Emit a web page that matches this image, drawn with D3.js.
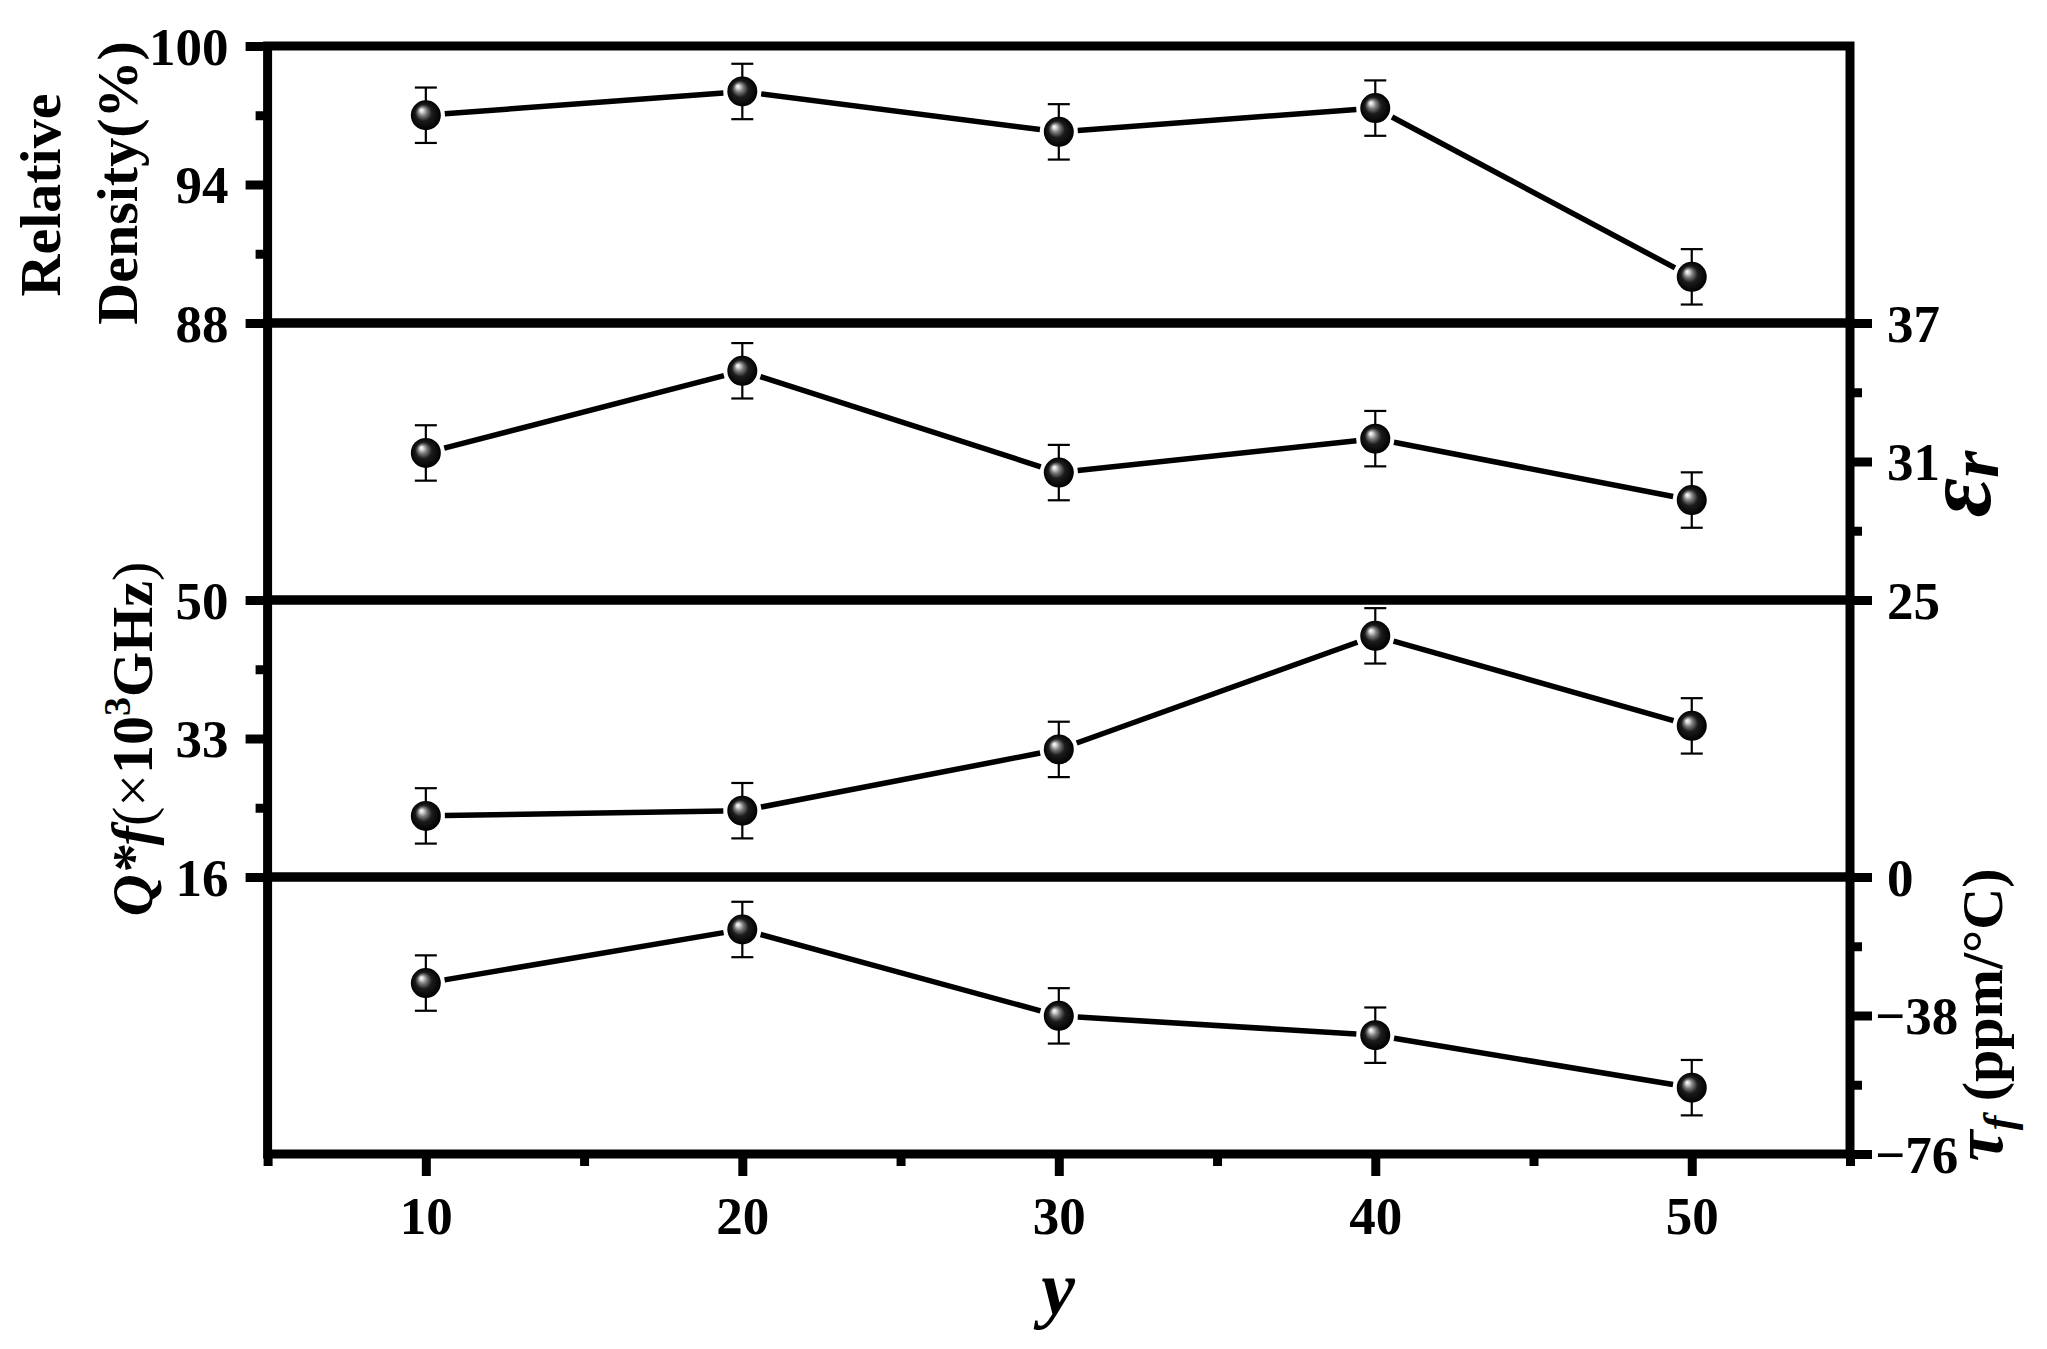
<!DOCTYPE html>
<html><head><meta charset="utf-8">
<script src="https://cdn.jsdelivr.net/npm/d3@7"></script>
<style>body{margin:0;background:#fff} svg{display:block}</style>
</head><body><svg id="c" width="2047" height="1349"></svg>
<script>
// ---- data ----
const xValues = [10, 20, 30, 40, 50];
const densityValues = [97.0, 98.03, 96.28, 97.31, 90.0];
const densityErr = [1.2, 1.2, 1.2, 1.2, 1.2];
const epsValues = [31.37, 34.93, 30.52, 31.99, 29.33];
const epsErr = [1.2, 1.2, 1.2, 1.2, 1.2];
const qfValues = [23.5, 24.14, 31.66, 45.6, 34.55];
const qfErr = [3.4, 3.4, 3.4, 3.4, 3.4];
const tauValues = [-29.1, -14.4, -38.1, -43.4, -57.8];
const tauErr = [7.6, 7.6, 7.6, 7.6, 7.6];

const xTicks = [10, 20, 30, 40, 50];
const xMinorTicks = [5, 15, 25, 35, 45, 55];
const densityTicks = [88, 94, 100];
const densityMinor = [91, 97];
const epsTicks = [25, 31, 37];
const epsMinor = [28, 34];
const qfTicks = [16, 33, 50];
const qfMinor = [24.5, 41.5];
const tauTicks = [-76, -38, 0];
const tauMinor = [-57, -19];

// ---- layout ----
const PL = 267.6, PR = 1850, PT = 46, panelH = 277;
const FONT = "'Liberation Serif','Times New Roman',serif";
const AX = 9, MAJ = 22, MIN = 12;

const svg = d3.select('#c');
const defs = svg.append('defs');
const grad = defs.append('radialGradient').attr('id', 'ball')
  .attr('cx', '50%').attr('cy', '50%').attr('r', '50%').attr('fx', '34%').attr('fy', '32%');
[[0, '#ffffff'], [0.12, '#d8d8d8'], [0.3, '#7a7a7a'], [0.55, '#1c1c1c'], [1, '#000000']]
  .forEach(([o, c]) => grad.append('stop').attr('offset', o).attr('stop-color', c));

const x = d3.scaleLinear().domain([5, 55]).range([PL, PR]);

const panels = [
  {values: densityValues, err: densityErr, domain: [88, 100], ticks: densityTicks, minor: densityMinor, side: 'left'},
  {values: epsValues, err: epsErr, domain: [25, 37], ticks: epsTicks, minor: epsMinor, side: 'right'},
  {values: qfValues, err: qfErr, domain: [16, 50], ticks: qfTicks, minor: qfMinor, side: 'left'},
  {values: tauValues, err: tauErr, domain: [-76, 0], ticks: tauTicks, minor: tauMinor, side: 'right'}
];

const fmt = d => d < 0 ? '\u2212' + Math.abs(d) : String(d);

function styleAxis(sel) {
  sel.select('.domain').remove();
  sel.selectAll('.tick line').attr('stroke', '#000').attr('stroke-width', AX);
  sel.selectAll('.tick text').attr('fill', '#000').style('font-family', FONT)
    .style('font-size', '53px').style('font-weight', 'bold');
}

const marks = svg.append('g');
const frames = svg.append('g');

panels.forEach((p, i) => {
  const y0 = PT + i * panelH, y1 = y0 + panelH;
  const y = d3.scaleLinear().domain(p.domain).range([y1, y0]);

  if (p.side === 'left') {
    const a = frames.append('g').attr('transform', `translate(${PL},0)`)
      .call(d3.axisLeft(y).tickValues(p.ticks).tickSize(MAJ).tickPadding(17).tickFormat(fmt));
    styleAxis(a);
    a.selectAll('.tick text').attr('dy', '0.34em');
    const m = frames.append('g').attr('transform', `translate(${PL},0)`)
      .call(d3.axisLeft(y).tickValues(p.minor).tickSize(MIN).tickFormat(''));
    styleAxis(m);
  } else {
    const a = frames.append('g').attr('transform', `translate(${PR},0)`)
      .call(d3.axisRight(y).tickValues(p.ticks).tickSize(MAJ).tickPadding(15).tickFormat(fmt));
    styleAxis(a);
    a.selectAll('.tick text').attr('dy', '0.34em').attr('x', d => d < 0 ? 25 : 37);
    const m = frames.append('g').attr('transform', `translate(${PR},0)`)
      .call(d3.axisRight(y).tickValues(p.minor).tickSize(MIN).tickFormat(''));
    styleAxis(m);
  }

  frames.append('rect').attr('x', PL).attr('y', y0).attr('width', PR - PL).attr('height', panelH)
    .attr('fill', 'none').attr('stroke', '#000').attr('stroke-width', AX);

  const pts = xValues.map((xv, j) => ({x: x(xv), y: y(p.values[j]), lo: y(p.values[j] - p.err[j]), hi: y(p.values[j] + p.err[j])}));

  const eb = marks.append('g').attr('stroke', '#000').attr('stroke-width', 2.2);
  pts.forEach(q => {
    eb.append('line').attr('x1', q.x).attr('x2', q.x).attr('y1', q.lo).attr('y2', q.hi);
    eb.append('line').attr('x1', q.x - 11).attr('x2', q.x + 11).attr('y1', q.lo).attr('y2', q.lo);
    eb.append('line').attr('x1', q.x - 11).attr('x2', q.x + 11).attr('y1', q.hi).attr('y2', q.hi);
  });

  const gap = 19;
  d3.pairs(pts).forEach(([a, b]) => {
    const dx = b.x - a.x, dy = b.y - a.y, L = Math.hypot(dx, dy);
    const ux = dx / L, uy = dy / L;
    marks.append('line')
      .attr('x1', a.x + ux * gap).attr('y1', a.y + uy * gap)
      .attr('x2', b.x - ux * gap).attr('y2', b.y - uy * gap)
      .attr('stroke', '#000').attr('stroke-width', 5.5);
  });

  marks.selectAll(null).data(pts).enter().append('circle')
    .attr('cx', d => d.x).attr('cy', d => d.y).attr('r', 15).attr('fill', 'url(#ball)');
});

const PB = PT + 4 * panelH;
const xa = frames.append('g').attr('transform', `translate(0,${PB})`)
  .call(d3.axisBottom(x).tickValues(xTicks).tickSize(MAJ).tickPadding(20));
styleAxis(xa);
const xm = frames.append('g').attr('transform', `translate(0,${PB})`)
  .call(d3.axisBottom(x).tickValues(xMinorTicks).tickSize(MIN).tickFormat(''));
styleAxis(xm);

const T = svg.append('g').attr('fill', '#000').style('font-family', FONT);
T.append('text').attr('transform', 'translate(60,195) rotate(-90)').attr('text-anchor', 'middle')
  .style('font-size', '58px').style('font-weight', 'bold').text('Relative');
T.append('text').attr('transform', 'translate(137,183) rotate(-90)').attr('text-anchor', 'middle')
  .style('font-size', '58px').style('font-weight', 'bold').text('Density(%)');

const qf = T.append('text').attr('transform', 'translate(152,739) rotate(-90)').attr('text-anchor', 'middle')
  .style('font-size', '58px');
qf.append('tspan').style('font-weight', 'bold').style('font-style', 'italic').text('Q*f');
qf.append('tspan').style('font-weight', 'normal').text('(\u00d7');
qf.append('tspan').style('font-weight', 'bold').text('10');
qf.append('tspan').style('font-weight', 'bold').style('font-size', '38px').attr('dy', -22).text('3');
qf.append('tspan').style('font-weight', 'bold').attr('dy', 22).text('GHz');
qf.append('tspan').style('font-weight', 'normal').text(')');

const er = T.append('text').attr('transform', 'translate(1990,484) rotate(-90)').attr('text-anchor', 'middle')
  .style('font-weight', 'bold').style('font-style', 'italic');
er.append('tspan').style('font-size', '96px').text('\u03b5');
er.append('tspan').style('font-size', '70px').attr('dy', 8).text('r');

const tf = T.append('text').attr('transform', 'translate(2002,1015) rotate(-90)').attr('text-anchor', 'middle')
  .style('font-weight', 'bold').style('font-size', '58px');
tf.append('tspan').style('font-style', 'italic').style('font-size', '70px').text('\u03c4');
tf.append('tspan').style('font-style', 'italic').style('font-size', '44px').attr('dy', 12).text('f');
tf.append('tspan').attr('dy', -12).text(' (ppm/\u00b0C)');

T.append('text').attr('x', 1058).attr('y', 1314).attr('text-anchor', 'middle')
  .style('font-size', '76px').style('font-weight', 'bold').style('font-style', 'italic').text('y');
</script>
</body></html>
